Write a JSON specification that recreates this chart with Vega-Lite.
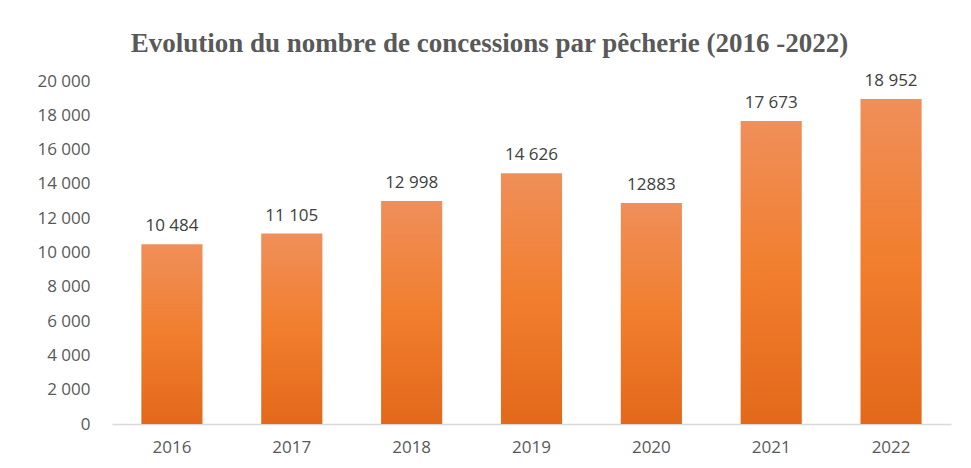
{
  "$schema": "https://vega.github.io/schema/vega-lite/v6.json",
  "width": 839,
  "height": 343,
  "autosize": {"type": "none"},
  "padding": {"left": 112, "top": 81, "right": 20, "bottom": 44},
  "background": "white",
  "title": {
    "text": "Evolution du nombre de concessions par pêcherie (2016 -2022)",
    "font": "Liberation Serif",
    "fontSize": 27,
    "fontWeight": "bold",
    "color": "#595959",
    "anchor": "middle",
    "dx": -42,
    "offset": 14
  },
  "config": {
    "locale": {"number": {"decimal": ",", "thousands": " ", "grouping": [3], "currency": ["", " €"]}},
    "view": {"stroke": null},
    "axis": {"labelFont": "Open Sans", "labelFontSize": 17, "labelColor": "#595959", "grid": false, "ticks": false, "title": null}
  },
  "data": {
    "values": [
      {"annee": "2016", "concessions": 10484, "etiquette": "10 484"},
      {"annee": "2017", "concessions": 11105, "etiquette": "11 105"},
      {"annee": "2018", "concessions": 12998, "etiquette": "12 998"},
      {"annee": "2019", "concessions": 14626, "etiquette": "14 626"},
      {"annee": "2020", "concessions": 12883, "etiquette": "12883"},
      {"annee": "2021", "concessions": 17673, "etiquette": "17 673"},
      {"annee": "2022", "concessions": 18952, "etiquette": "18 952"}
    ]
  },
  "encoding": {
    "x": {
      "field": "annee",
      "type": "nominal",
      "scale": {"paddingInner": 0.49, "paddingOuter": 0.245},
      "axis": {"labelAngle": 0, "domainColor": "#d9d9d9", "domainWidth": 1.5, "labelPadding": 15}
    },
    "y": {
      "field": "concessions",
      "type": "quantitative",
      "scale": {"domain": [0, 20000]},
      "axis": {"values": [0, 2000, 4000, 6000, 8000, 10000, 12000, 14000, 16000, 18000, 20000], "format": ",d", "domain": false, "labelPadding": 22}
    }
  },
  "layer": [
    {
      "mark": {
        "type": "bar",
        "color": {
          "gradient": "linear",
          "x1": 0, "y1": 0, "x2": 0, "y2": 1,
          "stops": [
            {"offset": 0, "color": "#F08F5A"},
            {"offset": 0.5, "color": "#F17E2E"},
            {"offset": 1, "color": "#E3681A"}
          ]
        }
      }
    },
    {
      "mark": {"type": "text", "baseline": "bottom", "dy": -9, "font": "Open Sans", "fontSize": 17, "color": "#404040"},
      "encoding": {"text": {"field": "etiquette"}}
    }
  ]
}
